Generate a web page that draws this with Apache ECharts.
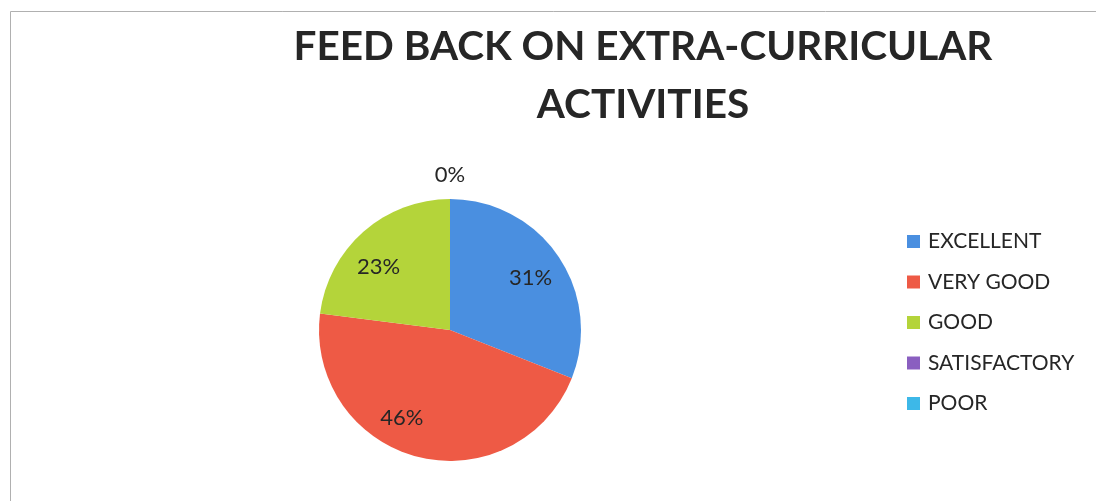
<!DOCTYPE html>
<html><head><meta charset="utf-8">
<script src="https://cdn.jsdelivr.net/npm/echarts@6/dist/echarts.min.js"></script>
<style>html,body{margin:0;padding:0;background:#fff}#c{width:1096px;height:501px}</style>
</head><body><div id="c"></div>
<script>
var categories = ['EXCELLENT', 'VERY GOOD', 'GOOD', 'SATISFACTORY', 'POOR'];
var values = [31, 46, 23, 0, 0];
var colors = ['#4A8FE0', '#EE5A45', '#B4D43A', '#8A5FC0', '#3DB8E8'];
var titleText = 'FEED BACK ON EXTRA-CURRICULAR\nACTIVITIES';

var chart = echarts.init(document.getElementById('c'), null, {renderer: 'canvas'});
var center = [450, 330];
var R = 131;
// small label nudges (style), matching the reference label placement
var labelNudge = [[0, 3], [-24, -6], [-7, 10], [0, 3], [0, 3]];
function pct(p) { return Math.round(p.percent) + '%'; }
var labelFont = {fontFamily: 'Lato', fontSize: 22, color: '#262626'};

var mainData = categories.map(function (n, i) {
  return {name: n, value: values[i], itemStyle: {color: colors[i]}};
});
var labelData = categories.map(function (n, i) {
  return {name: n, value: values[i], label: {show: values[i] > 0, offset: labelNudge[i]}};
});
var zeroData = categories.map(function (n, i) {
  return {name: n, value: values[i], label: {show: values[i] === 0 && i === 3, offset: labelNudge[i]}};
});
var transparent = {color: 'rgba(0,0,0,0)', borderWidth: 0};

chart.setOption({
  backgroundColor: '#fff',
  animation: false,
  color: colors,
  graphic: [{type: 'rect', shape: {x: 10.5, y: 11.5, width: 1200, height: 600},
    style: {fill: 'none', stroke: '#b0b0b0', lineWidth: 1}, silent: true}],
  title: {
    text: titleText, left: 638, top: 13, textAlign: 'center',
    textStyle: {fontFamily: 'Lato', fontWeight: 'bold', fontSize: 40.5, color: '#262626', lineHeight: 58}
  },
  legend: {
    orient: 'vertical', left: 902, top: 226, itemWidth: 13, itemHeight: 13, itemGap: 19.5,
    icon: 'rect',
    textStyle: {fontFamily: 'Lato', fontSize: 21, color: '#262626', lineHeight: 20, padding: [0, 0, 0, 3]},
    data: categories
  },
  series: [{
    type: 'pie', center: center, radius: R, startAngle: 90, clockwise: true,
    label: {show: false}, labelLine: {show: false}, silent: true,
    data: mainData
  }, {
    type: 'pie', center: center, radius: [R * 0.44, R], startAngle: 90, clockwise: true,
    itemStyle: transparent, silent: true, avoidLabelOverlap: false,
    label: Object.assign({position: 'inside', formatter: pct}, labelFont),
    labelLine: {show: false},
    data: labelData
  }, {
    type: 'pie', center: center, radius: [R + 10, R + 38], startAngle: 90, clockwise: true,
    itemStyle: transparent, silent: true, avoidLabelOverlap: false,
    label: Object.assign({position: 'inside', formatter: pct}, labelFont),
    labelLine: {show: false},
    data: zeroData
  }]
});
</script></body></html>
